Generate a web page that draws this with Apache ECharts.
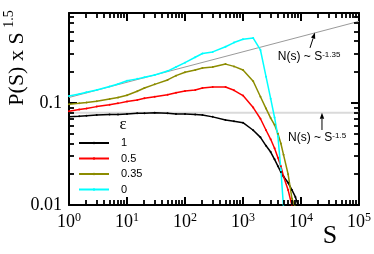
<!DOCTYPE html>
<html><head><meta charset="utf-8">
<script src="https://cdn.jsdelivr.net/npm/echarts@6/dist/echarts.min.js"></script>
<style>html,body{margin:0;padding:0;background:#fff}#c{width:374px;height:254px}</style>
</head><body><div id="c"></div>
<script>
// ---- data ----
const sizes = [1,1.5,2,3,5,7,10,15,20,30,50,70,100,150,200,300,500,700,1000,1500,2000,2500,3000,3500,4000,4500,5000,6000,7000,8000,9000];
const eps1Values   = [0.073,0.074,0.075,0.076,0.077,0.077,0.078,0.079,0.079,0.080,0.079,0.078,0.078,0.077,0.076,0.073,0.068,0.066,0.064,0.054,0.046,0.038,0.033,0.028,0.024,0.021,0.019,0.0165,0.014,0.012,0.0098];
const eps05Values  = [0.083,0.086,0.088,0.092,0.096,0.099,0.103,0.107,0.111,0.115,0.120,0.126,0.131,0.134,0.140,0.143,0.143,0.133,0.118,0.090,0.070,0.054,0.044,0.036,0.029,0.024,0.019,0.014,0.0098,null,null];
const eps035Values = [0.097,0.099,0.101,0.104,0.109,0.113,0.119,0.130,0.140,0.152,0.168,0.185,0.200,0.210,0.220,0.225,0.240,0.228,0.210,0.163,0.115,0.088,0.071,0.061,0.050,0.040,0.031,0.020,0.0115,0.0095,null];
const eps0Values   = [0.117,0.122,0.127,0.134,0.145,0.153,0.165,0.172,0.178,0.188,0.205,0.225,0.248,0.280,0.305,0.316,0.355,0.390,0.420,0.432,0.330,0.180,0.110,0.072,0.047,0.022,0.0095,null,null,null,null];
const legendNames = ['1','0.5','0.35','0'];
const seriesColors = ['#000000','#ff0000','#8c8c00','#00ffff'];
const xTickExponents = ['0','1','2','3','4','5'];
const yTickLabels = {'-2':'0.01','-1':'0.1'};
const refSteepLine = [[1,0.113],[100000,0.63]];
const refFlatLine = [[1,0.08],[100000,0.08]];
const steepArrow = {tail:[14300,0.346], tip:[17400,0.489]};
const flatArrow = {tail:[23000,0.0543], tip:[23000,0.08]};
const steepTextAt = [3990,0.282];
const flatTextAt = [5970,0.0459];
const xMin = 1, xMax = 100000, yMin = 0.01, yMax = 0.76;

const serif = 'Liberation Serif';
const sans = 'Liberation Sans';
const chart = echarts.init(document.getElementById('c'));

function pairs(vals){ const out=[]; sizes.forEach((s,i)=>{ if(vals[i]!=null) out.push([s,vals[i]]); }); return out; }
function curve(name, vals, color){
  return {name, type:'line', data:pairs(vals), symbol:'circle', symbolSize:2, showSymbol:true,
    lineStyle:{color, width:1.5}, itemStyle:{color}, color, z:3, animation:false, clip:true};
}

const axisCommon = {
  axisLine:{show:true, lineStyle:{color:'#000', width:2}},
  axisTick:{show:true, inside:true, length:8, lineStyle:{color:'#000', width:2}},
  splitLine:{show:false}, minorTick:{show:false}
};
const xLabel = {
  margin:7,
  formatter: v => '{b|10}{s|' + xTickExponents[Math.round(Math.log10(v))] + '}',
  rich:{ b:{fontFamily:serif, fontSize:18, color:'#000', lineHeight:20},
         s:{fontFamily:serif, fontSize:12, color:'#000', verticalAlign:'top', lineHeight:12} }
};
const option = {
  animation:false,
  backgroundColor:'#fff',
  grid:{left:69, right:15, top:13, bottom:49, outerBoundsMode:'none'},
  xAxis:[
    Object.assign({type:'log', logBase:10, min:xMin, max:xMax, position:'bottom', axisLabel:xLabel}, axisCommon),
    Object.assign({type:'log', logBase:10, min:xMin, max:xMax, position:'top', axisLabel:{show:false}}, axisCommon)
  ],
  yAxis:[
    Object.assign({type:'log', logBase:10, min:yMin, max:yMax, position:'left',
      axisLabel:{margin:7, fontFamily:serif, fontSize:18, color:'#000',
        formatter: v => { const e=Math.log10(v); return Math.abs(e-Math.round(e))<1e-6 ? (yTickLabels[String(Math.round(e))]||'') : ''; }}}, axisCommon),
    Object.assign({type:'log', logBase:10, min:yMin, max:yMax, position:'right', axisLabel:{show:false}}, axisCommon)
  ],
  legend:{
    data:legendNames, orient:'vertical', left:78, top:137, padding:0, itemWidth:30, itemHeight:3, itemGap:3.5,
    textStyle:{fontFamily:sans, fontSize:11, lineHeight:12, color:'#000', padding:[0,0,0,7]}
  },
  series:[
    {type:'line', data:refFlatLine, symbol:'none', lineStyle:{color:'#dadada', width:2}, z:1, silent:true, animation:false},
    {type:'line', data:refSteepLine, symbol:'none', lineStyle:{color:'#9a9a9a', width:1}, z:1, silent:true, animation:false},
    curve(legendNames[0], eps1Values, seriesColors[0]),
    curve(legendNames[1], eps05Values, seriesColors[1]),
    curve(legendNames[2], eps035Values, seriesColors[2]),
    curve(legendNames[3], eps0Values, seriesColors[3])
  ]
};
chart.setOption(option);

function px(pt){ return chart.convertToPixel({gridIndex:0}, pt); }
function arrow(a){
  const t = px(a.tail), h = px(a.tip);
  const dx = h[0]-t[0], dy = h[1]-t[1], len = Math.hypot(dx,dy), ux = dx/len, uy = dy/len;
  const hl = 6, hw = 2.2;
  const bx = h[0]-ux*hl, by = h[1]-uy*hl;
  return [
    {type:'line', shape:{x1:t[0],y1:t[1],x2:bx,y2:by}, style:{stroke:'#000', lineWidth:1}, z:10},
    {type:'polygon', shape:{points:[[h[0],h[1]],[bx-uy*hw,by+ux*hw],[bx+uy*hw,by-ux*hw]]}, style:{fill:'#000'}, z:10}
  ];
}
// minor ticks (2..9 per decade) placed through the axes' own scales
const tl = px([xMin,yMax]), br = px([xMax,yMin]);
const minorEls = [];
const L = 5;
function tick(x1,y1,x2,y2){ return {type:'line', shape:{x1,y1,x2,y2}, style:{stroke:'#000', lineWidth:1.8}, z:20}; }
for (let k=0;k<5;k++) for (let m=2;m<=9;m++){
  const x = Math.round(px([m*Math.pow(10,k), yMin])[0]);
  minorEls.push(tick(x, br[1], x, br[1]-L));
  minorEls.push(tick(x, tl[1], x, tl[1]+L));
}
for (let k=-2;k<0;k++) for (let m=2;m<=9;m++){
  const v = m*Math.pow(10,k); if (v>=yMax) continue;
  const y = Math.round(px([xMin, v])[1]);
  minorEls.push(tick(tl[0], y, tl[0]+L, y));
  minorEls.push(tick(br[0], y, br[0]-L, y));
}
const st = px(steepTextAt), ft = px(flatTextAt);
const annRich = { m:{fontFamily:sans, fontSize:12, fill:'#000', color:'#000'}, s:{fontFamily:sans, fontSize:8, fill:'#000', color:'#000', verticalAlign:'top', lineHeight:9} };
chart.setOption({graphic:{elements:[
  {type:'text', x:17, y:69, rotation:Math.PI/2, z:10,
   style:{text:'P(S) x S', fontFamily:serif, fontSize:22, fill:'#000', align:'center', verticalAlign:'middle', textAlign:'center', textVerticalAlign:'middle'}},
  {type:'text', x:9, y:19, rotation:Math.PI/2, z:10,
   style:{text:'1.5', fontFamily:serif, fontSize:14, fill:'#000', align:'center', verticalAlign:'middle', textAlign:'center', textVerticalAlign:'middle'}},
  {type:'text', x:330, y:236, z:10,
   style:{text:'S', fontFamily:serif, fontSize:26, fill:'#000', align:'center', verticalAlign:'middle', textAlign:'center', textVerticalAlign:'middle'}},
  {type:'text', x:123, y:125, z:10,
   style:{text:'ε', fontFamily:serif, fontSize:17, fill:'#000', align:'center', verticalAlign:'middle', textAlign:'center', textVerticalAlign:'middle'}},
  {type:'text', x:st[0], y:st[1], z:10,
   style:{text:'{m|N(s) ~ S}{s|-1.35}', rich:annRich, align:'left', verticalAlign:'middle', textAlign:'left', textVerticalAlign:'middle'}},
  {type:'text', x:ft[0], y:ft[1], z:10,
   style:{text:'{m|N(s) ~ S}{s|-1.5}', rich:annRich, align:'left', verticalAlign:'middle', textAlign:'left', textVerticalAlign:'middle'}}
].concat(arrow(steepArrow), arrow(flatArrow), minorEls)}});
</script>
</body></html>
